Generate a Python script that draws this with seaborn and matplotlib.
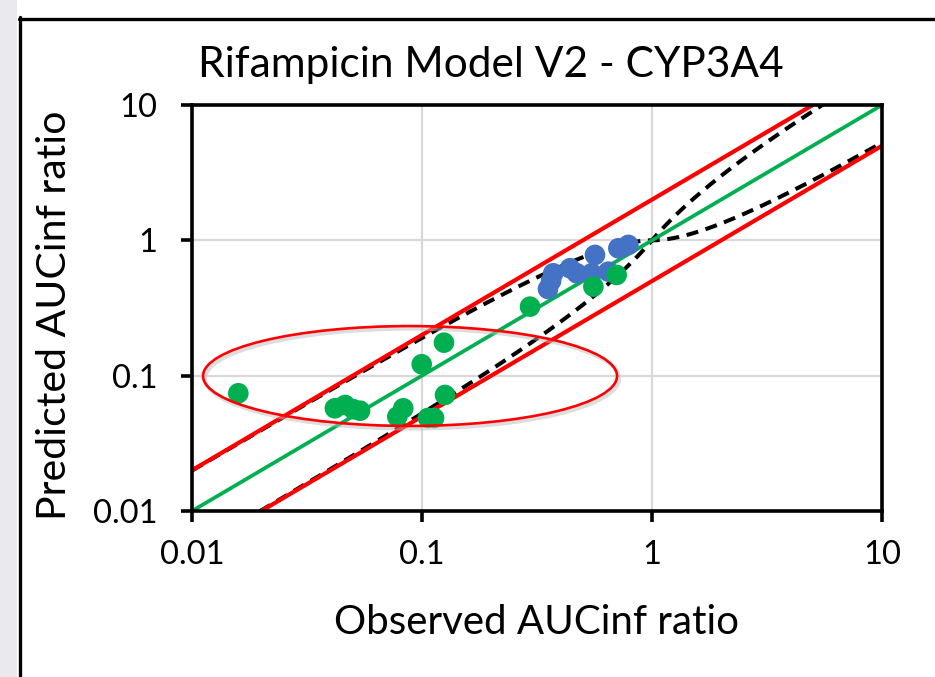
import numpy as np
import pandas as pd
import matplotlib
matplotlib.use("Agg")
import matplotlib.pyplot as plt
import seaborn as sns
from matplotlib.patches import Ellipse, Rectangle
from matplotlib.lines import Line2D
from matplotlib.ticker import FixedLocator, FixedFormatter, NullLocator

# ---- data ----
obs_green = [0.0159, 0.0418, 0.0463, 0.0503, 0.0538, 0.0781, 0.0829, 0.0997,
             0.1246, 0.1259, 0.1062, 0.1128, 0.2949, 0.556, 0.702]
pred_green = [0.0741, 0.0574, 0.0607, 0.0565, 0.0551, 0.0498, 0.0574, 0.1214,
              0.1754, 0.0720, 0.0487, 0.0487, 0.3236, 0.455, 0.555]
obs_blue = [0.353, 0.364, 0.372, 0.440, 0.471, 0.547, 0.565, 0.646, 0.714, 0.789]
pred_blue = [0.437, 0.501, 0.571, 0.622, 0.571, 0.571, 0.780, 0.587, 0.874, 0.925]

axis_ticks = [0.01, 0.1, 1, 10]
tick_labels = ["0.01", "0.1", "1", "10"]
unity_x = [0.01, 10]
upper_fold_x = [0.01, 5]
lower_fold_x = [0.02, 10]
fold = 2.0

title = "Rifampicin Model V2 - CYP3A4"
xlabel = "Observed AUCinf ratio"
ylabel = "Predicted AUCinf ratio"

GREEN = "#00B050"
BLUE = "#4472C4"
RED = "#FF0000"

sns.set_theme(style="white")
plt.rcParams['font.family'] = ['Lato', 'DejaVu Sans']

W, H = 935, 677
fig = plt.figure(figsize=(W / 100, H / 100), dpi=100)
fig.patch.set_facecolor("white")

# outer frame (screenshot border)
fig.patches.append(Rectangle((0, 0), 17 / W, 1, transform=fig.transFigure,
                             facecolor="#e9e9ee", edgecolor="none", zorder=0))
fig.lines.append(Line2D([19.5 / W, 19.5 / W], [0, 1 - 17 / H], transform=fig.transFigure,
                        color="black", lw=2.4))
fig.lines.append(Line2D([18.5 / W, 1], [1 - 18.5 / H, 1 - 18.5 / H], transform=fig.transFigure,
                        color="black", lw=2.4))

ax = fig.add_axes([192 / W, 1 - 511 / H, 690 / W, 406 / H])
ax.set_xscale("log")
ax.set_yscale("log")
ax.set_xlim(0.01, 10)
ax.set_ylim(0.01, 10)

# Guest et al. limits
grid = np.logspace(-2, 1, 500)
r = np.where(grid >= 1, grid, 1 / grid)
lim = (1 + fold * (r - 1)) / r
guest = pd.DataFrame({"x": grid, "upper": grid * lim, "lower": grid / lim})

ux = np.array(unity_x)
uf = np.array(upper_fold_x)
lf = np.array(lower_fold_x)

sns.lineplot(x=guest["x"], y=guest["upper"], ax=ax, color="black", lw=2.9,
             estimator=None, sort=False, zorder=3).lines[-1].set_dashes([3.0, 1.9])
sns.lineplot(x=guest["x"], y=guest["lower"], ax=ax, color="black", lw=2.9,
             estimator=None, sort=False, zorder=3).lines[-1].set_dashes([3.0, 1.9])
sns.lineplot(x=uf, y=uf * fold, ax=ax, color=RED, lw=3.0, estimator=None, sort=False, zorder=4)
sns.lineplot(x=lf, y=lf / fold, ax=ax, color=RED, lw=3.0, estimator=None, sort=False, zorder=4)
sns.lineplot(x=ux, y=ux, ax=ax, color=GREEN, lw=2.7, estimator=None, sort=False, zorder=4)

sns.scatterplot(x=obs_blue, y=pred_blue, ax=ax, color=BLUE, s=220, edgecolor="none",
                linewidth=0, zorder=6)
sns.scatterplot(x=obs_green, y=pred_green, ax=ax, color=GREEN, s=220, edgecolor="none",
                linewidth=0, zorder=6)

ax.xaxis.set_major_locator(FixedLocator(axis_ticks))
ax.yaxis.set_major_locator(FixedLocator(axis_ticks))
ax.xaxis.set_major_formatter(FixedFormatter(tick_labels))
ax.yaxis.set_major_formatter(FixedFormatter(tick_labels))
ax.xaxis.set_minor_locator(NullLocator())
ax.yaxis.set_minor_locator(NullLocator())

ax.grid(True, which="major", color="#d9d9d9", lw=1.6, zorder=0)
ax.set_axisbelow(True)
for sp in ax.spines.values():
    sp.set_visible(True)
    sp.set_color("black")
    sp.set_linewidth(2.6)
    sp.set_zorder(7)
ax.tick_params(axis="both", which="major", direction="out", length=8, width=2.6,
               color="black", labelsize=23.5, labelcolor="black")
ax.tick_params(axis="x", pad=13)
ax.tick_params(axis="y", pad=17)
ax.tick_params(top=False, right=False, bottom=True, left=True)

ax.set_xlabel("")
ax.set_ylabel("")
fig.text(537 / W, 1 - 622 / H, xlabel, ha="center", va="center", fontsize=29, color="black")
fig.text(55 / W, 1 - 315 / H, ylabel, ha="center", va="center", rotation=90,
         fontsize=29.5, color="black")
fig.text(491 / W, 1 - 65 / H, title, ha="center", va="center", fontsize=30.5, color="black")

# highlight ellipse (with faint shadow)
ell_sh = Ellipse((0.319, 0.326), 0.6, 0.246, transform=ax.transAxes, fill=False,
                 edgecolor="#bdbdbd", lw=2.8, alpha=0.5, clip_on=False, zorder=7)
ax.add_patch(ell_sh)
ell = Ellipse((0.316, 0.3325), 0.6, 0.246, transform=ax.transAxes, fill=False,
              edgecolor=RED, lw=1.9, clip_on=False, zorder=8)
ax.add_patch(ell)

fig.savefig("out.png", dpi=100, facecolor="white")
